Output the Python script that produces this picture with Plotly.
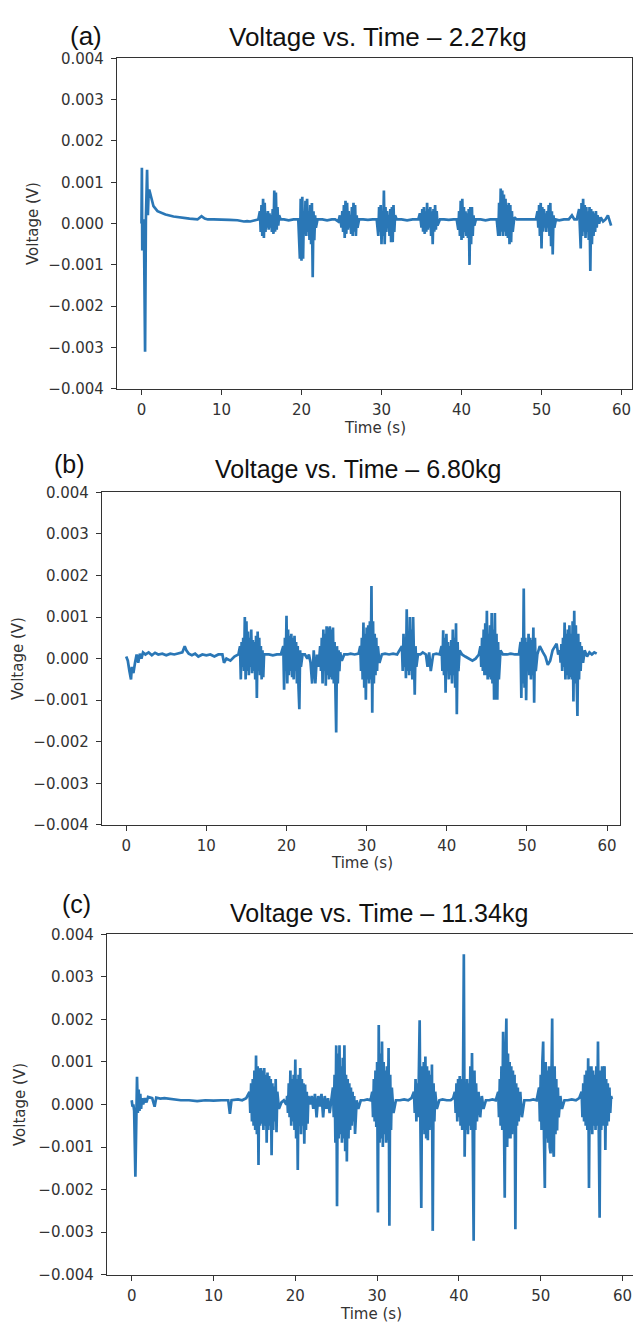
import plotly.graph_objects as go

W, H = 633, 1334

# ---------------- data ----------------
titles = ["Voltage vs. Time – 2.27kg", "Voltage vs. Time – 6.80kg", "Voltage vs. Time – 11.34kg"]
panel_tags = ["(a)", "(b)", "(c)"]
x_label = "Time (s)"
y_label = "Voltage (V)"
x_ticks = [0, 10, 20, 30, 40, 50, 60]
x_tick_text = ["0", "10", "20", "30", "40", "50", "60"]
y_ticks = [-0.004, -0.003, -0.002, -0.001, 0.0, 0.001, 0.002, 0.003, 0.004]
y_tick_text = ["−0.004", "−0.003", "−0.002", "−0.001", "0.000", "0.001", "0.002", "0.003", "0.004"]

# (time s, voltage mV) samples
samples_a_mV = [
    (0.0, 0.0), (0.05, 1.35), (0.1, -0.65), (0.15, 0.0), (0.3, 0.1), (0.45, -3.1), (0.55, 0.1), (0.7, 1.3),
    (0.8, 0.2), (0.9, 0.8), (1.0, 0.8), (1.2, 0.65), (1.5, 0.42), (2.0, 0.3), (2.5, 0.25), (3.0, 0.22),
    (4.0, 0.17), (5.0, 0.14), (6.0, 0.12), (7.0, 0.1), (7.5, 0.18), (7.9, 0.12), (8.3, 0.1), (9.0, 0.1),
    (10.0, 0.1), (11.0, 0.09), (12.0, 0.08), (12.8, 0.05), (13.2, 0.06), (13.6, 0.05), (14.2, 0.08), (14.6, 0.1),
    (14.8, 0.3), (14.9, -0.2), (15.0, 0.45), (15.1, -0.3), (15.2, 0.6), (15.3, -0.35), (15.4, 0.5), (15.5, -0.2),
    (15.6, 0.25), (15.7, -0.1), (15.8, 0.3), (15.9, -0.15), (16.0, 0.25), (16.1, -0.1), (16.2, 0.2), (16.3, -0.2),
    (16.4, 0.35), (16.5, -0.25), (16.6, 0.8), (16.7, -0.2), (16.8, 0.75), (16.9, -0.15), (17.0, 0.4), (17.1, -0.05),
    (17.2, 0.2), (17.4, 0.1), (17.8, 0.1), (18.4, 0.08), (19.0, 0.1),
    (19.6, 0.1), (19.8, -0.85), (19.9, 0.6), (20.0, -0.9), (20.1, 0.65), (20.2, -0.85), (20.3, 0.3), (20.4, -0.2),
    (20.5, 0.55), (20.6, -0.3), (20.7, 0.6), (20.8, -0.2), (20.9, 0.3), (21.0, -0.4), (21.1, 0.45), (21.2, -0.5),
    (21.3, 0.5), (21.4, -1.3), (21.5, 0.3), (21.6, -0.4), (21.7, 0.2), (21.8, -0.1), (22.0, 0.1),
    (22.6, 0.1), (23.2, 0.08), (23.8, 0.1), (24.2, 0.1),
    (24.6, 0.05), (24.8, 0.2), (25.0, -0.1), (25.1, 0.3), (25.2, -0.2), (25.3, 0.45), (25.4, -0.35), (25.5, 0.55),
    (25.6, -0.25), (25.7, 0.5), (25.8, -0.15), (25.9, 0.3), (26.0, -0.1), (26.1, 0.2), (26.2, -0.25), (26.3, 0.4),
    (26.4, -0.3), (26.5, 0.5), (26.6, -0.2), (26.7, 0.45), (26.8, -0.3), (26.9, 0.2), (27.0, -0.1), (27.2, 0.1),
    (27.7, 0.1), (28.3, 0.09), (28.9, 0.1),
    (29.4, 0.1), (29.6, -0.3), (29.7, 0.4), (29.8, -0.2), (29.9, 0.45), (30.0, -0.5), (30.1, 0.3), (30.2, -0.3),
    (30.3, 0.8), (30.4, -0.5), (30.5, 0.4), (30.6, -0.2), (30.7, 0.3), (30.8, -0.1), (30.9, 0.2), (31.0, -0.3),
    (31.1, 0.35), (31.2, -0.45), (31.3, 0.4), (31.4, -0.45), (31.5, 0.45), (31.6, -0.2), (31.7, 0.2), (31.9, 0.1),
    (32.5, 0.1), (33.2, 0.08), (33.9, 0.1),
    (34.6, 0.1), (34.8, 0.25), (35.0, -0.1), (35.1, 0.35), (35.2, -0.2), (35.3, 0.4), (35.4, -0.25), (35.5, 0.3),
    (35.6, -0.2), (35.7, 0.5), (35.8, -0.15), (35.9, 0.35), (36.0, -0.1), (36.1, 0.4), (36.2, -0.3), (36.3, 0.3),
    (36.4, -0.5), (36.5, 0.35), (36.6, -0.2), (36.7, 0.45), (36.8, -0.15), (36.9, 0.3), (37.0, -0.05), (37.3, 0.1),
    (37.8, 0.1), (38.4, 0.09), (39.0, 0.1),
    (39.4, 0.1), (39.6, -0.15), (39.7, 0.3), (39.8, -0.3), (39.9, 0.55), (40.0, -0.4), (40.1, 0.6), (40.2, -0.35),
    (40.3, 0.4), (40.4, -0.2), (40.5, 0.3), (40.6, -0.3), (40.7, 0.25), (40.8, -0.35), (40.9, 0.35), (41.0, -1.0),
    (41.1, 0.4), (41.2, -0.5), (41.3, 0.4), (41.4, -0.3), (41.5, 0.2), (41.6, -0.05), (41.8, 0.1),
    (42.4, 0.1), (43.0, 0.08), (43.6, 0.1), (44.1, 0.1),
    (44.4, 0.1), (44.6, -0.3), (44.7, 0.5), (44.8, -0.3), (44.9, 0.85), (45.0, -0.2), (45.1, 0.8), (45.2, -0.3),
    (45.3, 0.7), (45.4, -0.2), (45.5, 0.6), (45.6, -0.3), (45.7, 0.45), (45.8, -0.35), (45.9, 0.5), (46.0, -0.5),
    (46.1, 0.45), (46.2, -0.45), (46.3, 0.3), (46.4, -0.2), (46.6, 0.15), (46.9, 0.1),
    (47.5, 0.1), (48.1, 0.09), (48.7, 0.1),
    (49.3, 0.1), (49.5, 0.3), (49.6, -0.1), (49.7, 0.45), (49.8, -0.3), (49.9, 0.5), (50.0, -0.6), (50.1, 0.4),
    (50.2, -0.2), (50.3, 0.35), (50.4, -0.1), (50.5, 0.25), (50.6, -0.2), (50.7, 0.3), (50.8, -0.1), (50.9, 0.45),
    (51.0, -0.3), (51.1, 0.5), (51.2, -0.55), (51.3, 0.3), (51.4, -0.75), (51.5, 0.2), (51.6, -0.1), (51.8, 0.1),
    (52.2, 0.08), (52.8, 0.1), (53.4, 0.1), (53.8, 0.2), (54.1, 0.1),
    (54.4, 0.1), (54.7, 0.35), (54.9, -0.6), (55.0, 0.5), (55.1, -0.3), (55.2, 0.6), (55.3, -0.2), (55.4, 0.45),
    (55.5, -0.35), (55.6, 0.4), (55.7, -0.2), (55.8, 0.3), (55.9, -0.4), (56.0, 0.4), (56.1, -1.15), (56.2, 0.35),
    (56.3, -0.5), (56.4, 0.3), (56.5, -0.3), (56.6, 0.25), (56.7, -0.2), (56.8, 0.3), (56.9, -0.1), (57.0, 0.2),
    (57.2, 0.0), (57.4, 0.15), (57.7, 0.05), (58.0, 0.1), (58.3, 0.2), (58.5, 0.05), (58.7, -0.05),
]

samples_b_mV = [
    (0.0, 0.05), (0.2, -0.05), (0.4, -0.3), (0.6, -0.5), (0.7, -0.2), (0.9, -0.35), (1.1, -0.1), (1.3, 0.1),
    (1.5, -0.1), (1.7, 0.12), (1.9, 0.0), (2.1, 0.15), (2.4, 0.1), (2.8, 0.15), (3.2, 0.08), (3.6, 0.14),
    (4.0, 0.1), (4.5, 0.12), (5.0, 0.08), (5.5, 0.12), (6.0, 0.1), (6.5, 0.12), (7.0, 0.15), (7.3, 0.3),
    (7.5, 0.2), (7.8, 0.12), (8.2, 0.08), (8.6, 0.12), (9.0, 0.05), (9.5, 0.1), (10.0, 0.08), (10.5, 0.1),
    (11.0, 0.05), (11.5, 0.1), (12.0, 0.1), (12.2, -0.1), (12.5, 0.0), (13.0, -0.05), (13.5, 0.05), (14.0, 0.1),
    (14.2, 0.3), (14.3, -0.5), (14.4, 0.4), (14.5, -0.2), (14.6, 0.5), (14.7, -0.3), (14.8, 1.0), (14.9, -0.5),
    (15.0, 0.9), (15.1, -0.3), (15.2, 0.65), (15.3, -0.4), (15.4, 0.5), (15.5, -0.2), (15.6, 0.7), (15.7, -0.35),
    (15.8, 0.45), (15.9, -0.3), (16.0, 0.4), (16.1, -0.5), (16.2, 0.55), (16.3, -0.95), (16.4, 0.65), (16.5, -0.3),
    (16.6, 0.5), (16.7, -0.4), (16.8, 0.3), (16.9, -0.5), (17.0, 0.2), (17.1, -0.45), (17.2, 0.1), (17.4, 0.1),
    (17.8, 0.1), (18.3, 0.08), (18.8, 0.1), (19.3, 0.1),
    (19.6, 0.3), (19.7, -0.75), (19.8, 0.5), (19.9, -0.3), (20.0, 1.03), (20.1, -0.6), (20.2, 0.7), (20.3, -0.4),
    (20.4, 0.55), (20.5, -0.3), (20.6, 0.6), (20.7, -0.45), (20.8, 0.5), (20.9, -0.5), (21.0, 0.55), (21.1, -0.3),
    (21.2, 0.4), (21.3, -0.6), (21.4, 0.3), (21.5, -0.7), (21.6, -1.22), (21.7, 0.2), (21.8, -0.2), (22.0, 0.1),
    (22.3, 0.1), (22.6, 0.0), (22.8, 0.1), (23.0, -0.1), (23.2, -0.6), (23.4, 0.2), (23.6, -0.6), (23.8, 0.1),
    (24.0, -0.2),
    (24.2, 0.3), (24.3, -0.3), (24.4, 0.5), (24.5, -0.6), (24.6, 0.7), (24.7, -0.3), (24.8, 0.6), (24.9, -0.65),
    (25.0, 0.78), (25.1, -0.4), (25.2, 0.75), (25.3, -0.5), (25.4, 0.78), (25.5, -0.45), (25.6, 0.7), (25.7, -0.5),
    (25.8, 0.75), (25.9, -0.6), (26.0, 0.4), (26.1, -1.0), (26.2, -1.78), (26.3, 0.3), (26.4, -0.6), (26.5, 0.2),
    (26.6, -0.3), (26.7, 0.15), (26.9, -0.05), (27.2, 0.1),
    (27.6, 0.1), (28.0, 0.12), (28.5, 0.1), (29.0, 0.12),
    (29.2, 0.3), (29.3, -0.3), (29.4, 0.5), (29.5, -0.5), (29.6, 0.87), (29.7, -0.7), (29.8, 0.6), (29.9, -0.99),
    (30.0, 0.75), (30.1, -0.5), (30.2, 0.8), (30.3, -0.6), (30.4, 0.9), (30.5, -0.5), (30.6, 1.75), (30.7, -1.3),
    (30.8, 0.9), (30.9, -0.6), (31.0, 0.6), (31.1, -0.4), (31.2, 0.5), (31.3, -0.3), (31.4, 0.3), (31.6, -0.1),
    (31.9, 0.1), (32.3, 0.12), (32.8, 0.1), (33.3, 0.12), (33.8, 0.1),
    (34.4, 0.3), (34.5, -0.3), (34.6, 0.6), (34.7, -0.2), (34.8, 0.5), (34.9, -0.47), (35.0, 1.19), (35.1, -0.3),
    (35.2, 0.6), (35.3, -0.4), (35.4, 1.0), (35.5, -0.3), (35.6, 0.7), (35.7, -0.5), (35.8, 1.0), (35.9, -0.6),
    (36.0, -0.87), (36.1, 0.3), (36.2, -0.2), (36.4, 0.1),
    (36.7, 0.1), (37.0, 0.15), (37.4, 0.1), (37.6, -0.2), (37.8, 0.15), (38.0, -0.3), (38.3, 0.1), (38.7, 0.12),
    (39.1, 0.1),
    (39.35, 0.3), (39.45, -0.3), (39.55, 0.68), (39.65, -0.4), (39.75, 0.5), (39.85, -0.82), (39.95, 0.6),
    (40.05, -0.3), (40.15, 0.4), (40.25, -0.5), (40.35, 0.3), (40.45, -0.4), (40.55, 0.45), (40.65, -0.6),
    (40.75, 0.7), (40.85, -0.4), (40.95, 0.5), (41.05, -0.7), (41.15, 0.85), (41.25, -1.34), (41.35, 0.4),
    (41.45, -0.3), (41.6, 0.2), (41.9, 0.1),
    (42.3, 0.05), (42.8, 0.0), (43.2, -0.05), (43.6, 0.0), (44.0, 0.1),
    (44.2, 0.3), (44.3, -0.2), (44.4, 0.5), (44.5, -0.3), (44.6, 0.7), (44.7, -0.4), (44.8, 0.85), (44.9, -0.4),
    (45.0, 1.15), (45.1, -0.5), (45.2, 0.6), (45.3, -0.45), (45.4, 0.8), (45.5, -0.5), (45.6, 1.1), (45.7, -0.6),
    (45.8, 0.7), (45.9, -0.99), (46.0, 1.1), (46.1, -0.99), (46.2, 0.6), (46.3, -0.99), (46.4, 0.4), (46.5, -0.5),
    (46.7, 0.2), (47.0, 0.1), (47.5, 0.1), (48.0, 0.12), (48.5, 0.1), (49.0, 0.1),
    (49.2, 0.4), (49.3, -0.95), (49.4, 0.5), (49.5, -0.6), (49.6, 1.69), (49.7, -0.7), (49.8, 0.5), (49.9, -1.0),
    (50.0, 0.4), (50.1, -0.3), (50.2, 0.6), (50.3, -0.4), (50.4, 0.5), (50.5, -0.5), (50.6, 0.45), (50.7, -0.4),
    (50.8, 0.75), (50.9, -1.06), (51.0, 0.5), (51.1, -0.3), (51.3, 0.1),
    (51.6, 0.3), (52.0, 0.15), (52.3, 0.05), (52.6, -0.15), (52.9, -0.05), (53.2, 0.2), (53.5, 0.3), (53.7, 0.36),
    (53.9, 0.1),
    (54.1, 0.2), (54.2, -0.1), (54.3, 0.35), (54.4, -0.3), (54.5, 0.5), (54.6, -0.2), (54.7, 0.87), (54.8, -0.5),
    (54.9, 0.6), (55.0, -0.4), (55.1, 0.7), (55.2, -0.5), (55.3, 0.8), (55.4, -0.45), (55.5, 0.6), (55.6, -0.5),
    (55.7, 0.9), (55.8, -1.03), (55.9, 1.15), (56.0, -0.6), (56.1, 0.8), (56.2, -0.5), (56.3, -1.38), (56.4, 0.6),
    (56.5, -0.5), (56.6, 0.4), (56.7, -0.3), (56.8, 0.3), (57.0, -0.1), (57.2, 0.2), (57.5, 0.05), (57.8, 0.15),
    (58.1, 0.1), (58.4, 0.15), (58.7, 0.12),
]

samples_c_mV = [
    (0.0, 0.1), (0.1, -0.05), (0.2, 0.0), (0.3, -0.15), (0.45, -1.7), (0.55, 0.2), (0.65, 0.65), (0.75, -0.2),
    (0.85, 0.35), (0.95, -0.15), (1.05, 0.25), (1.15, -0.1), (1.25, 0.15), (1.4, 0.0), (1.6, 0.15), (1.8, 0.05),
    (2.0, 0.18), (2.5, 0.15), (2.8, -0.05), (3.0, 0.16), (3.5, 0.14), (4.0, 0.15), (5.0, 0.12), (6.0, 0.1),
    (7.0, 0.1), (8.0, 0.08), (9.0, 0.1), (10.0, 0.09), (11.0, 0.1), (11.8, 0.1), (12.0, -0.22), (12.2, 0.1),
    (13.0, 0.12), (13.5, 0.1), (14.0, 0.15),
    (14.4, 0.3), (14.5, -0.2), (14.6, 0.5), (14.7, -0.4), (14.8, 0.6), (14.9, -0.5), (15.0, 0.8), (15.1, -0.6),
    (15.2, 1.15), (15.3, -0.7), (15.4, 0.9), (15.5, -1.42), (15.6, 0.85), (15.7, -0.5), (15.8, 0.86), (15.9, -0.45),
    (16.0, 0.8), (16.1, -0.6), (16.2, 0.86), (16.3, -0.5), (16.4, 0.7), (16.5, -0.9), (16.6, 0.75), (16.7, -0.6),
    (16.8, 0.67), (16.9, -0.5), (17.0, 0.6), (17.1, -1.19), (17.2, 0.5), (17.3, -0.6), (17.4, 0.42), (17.5, -0.4),
    (17.6, 0.6), (17.7, -0.65), (17.8, 0.3), (18.0, -0.1), (18.3, 0.05), (18.6, 0.1), (18.9, 0.0),
    (19.0, 0.2), (19.1, -0.2), (19.2, 0.5), (19.3, -0.3), (19.4, 0.8), (19.5, -0.5), (19.6, 0.6), (19.7, -0.4),
    (19.8, 0.7), (19.9, -0.6), (20.0, 1.06), (20.1, -0.8), (20.2, 0.6), (20.3, -1.54), (20.4, 0.7), (20.5, -0.5),
    (20.6, 0.86), (20.7, -0.7), (20.8, 0.6), (20.9, -0.5), (21.0, 0.5), (21.1, -0.92), (21.2, 0.47), (21.3, -0.6),
    (21.4, 0.3), (21.5, -0.45), (21.6, 0.2), (21.8, 0.0),
    (22.0, 0.2), (22.2, -0.1), (22.4, 0.25), (22.6, -0.3), (22.8, 0.2), (23.0, -0.05), (23.2, 0.25), (23.4, -0.3),
    (23.6, 0.2), (23.8, -0.1), (24.0, 0.15), (24.2, -0.2), (24.4, 0.1),
    (24.6, 0.4), (24.7, -0.3), (24.8, 0.7), (24.9, -0.9), (25.0, 1.39), (25.1, -2.39), (25.2, 1.2), (25.3, -0.8),
    (25.4, 1.39), (25.5, -0.7), (25.6, 0.9), (25.7, -0.9), (25.8, 1.1), (25.9, -0.8), (26.0, 1.39), (26.1, -1.1),
    (26.2, 0.7), (26.3, -1.34), (26.4, 0.6), (26.5, -0.8), (26.6, 0.5), (26.7, -0.6), (26.8, 0.4), (26.9, -0.5),
    (27.0, 0.3), (27.1, -0.4), (27.2, 0.2), (27.3, -0.69), (27.5, 0.1), (27.7, -0.1), (28.0, 0.1),
    (28.4, 0.1), (28.8, 0.12), (29.2, 0.1),
    (29.4, 0.3), (29.5, -0.3), (29.6, 0.6), (29.7, -0.4), (29.8, 0.8), (29.9, -0.53), (30.0, 1.0), (30.1, -2.54),
    (30.2, 1.87), (30.3, -0.9), (30.4, 1.2), (30.5, -0.8), (30.6, 1.48), (30.7, -1.0), (30.8, 1.0), (30.9, -0.7),
    (31.0, 0.8), (31.1, -0.9), (31.2, 0.9), (31.3, -0.84), (31.4, 1.33), (31.5, -2.85), (31.6, 0.7), (31.7, -0.6),
    (31.8, 0.4), (32.0, -0.2), (32.3, 0.1),
    (32.8, 0.1), (33.3, 0.12), (33.8, 0.1), (34.2, 0.15),
    (34.5, 0.3), (34.6, -0.2), (34.7, 0.6), (34.8, -0.4), (34.9, 0.5), (35.0, -0.3), (35.1, 0.7), (35.2, 1.98),
    (35.3, -0.6), (35.4, -2.43), (35.5, 0.9), (35.6, -0.6), (35.7, 1.0), (35.8, -0.7), (35.9, 1.13), (36.0, -0.8),
    (36.1, 0.9), (36.2, -0.84), (36.3, 0.8), (36.4, -0.6), (36.5, 0.7), (36.6, -0.5), (36.7, 0.94), (36.8, -2.97),
    (36.9, 0.5), (37.0, -0.4), (37.1, 0.3), (37.3, -0.1), (37.6, 0.1),
    (38.0, 0.12), (38.5, 0.1), (39.0, 0.1), (39.3, 0.15),
    (39.5, 0.3), (39.6, -0.2), (39.7, 0.5), (39.8, -0.4), (39.9, 0.6), (40.0, -0.3), (40.1, 0.67), (40.2, -0.5),
    (40.3, 0.6), (40.4, -0.6), (40.5, 0.5), (40.6, 3.53), (40.7, -1.23), (40.8, 0.4), (40.9, -0.6), (41.0, 0.6),
    (41.1, -0.7), (41.2, 0.5), (41.3, -0.5), (41.4, 0.9), (41.5, -0.6), (41.6, 1.21), (41.7, -0.9), (41.8, -3.2),
    (41.9, 0.8), (42.0, -0.6), (42.1, 0.5), (42.2, -0.4), (42.4, 0.3), (42.6, -0.3), (42.8, 0.2), (43.0, -0.1),
    (43.3, 0.1), (43.7, 0.1), (44.1, 0.12), (44.5, 0.1),
    (44.8, 0.3), (44.9, -0.3), (45.0, 0.6), (45.1, -0.5), (45.2, 0.9), (45.3, -0.6), (45.4, 1.71), (45.5, -0.9),
    (45.6, -2.19), (45.7, 1.0), (45.8, 2.02), (45.9, -1.0), (46.0, 1.2), (46.1, -0.8), (46.2, 1.0), (46.3, -0.8),
    (46.4, 0.9), (46.5, -0.7), (46.6, 0.8), (46.7, -0.6), (46.8, 0.7), (46.9, -2.93), (47.0, 0.5), (47.1, -0.5),
    (47.2, 0.4), (47.3, -0.4), (47.5, 0.3), (47.7, -0.3), (48.0, 0.1), (48.3, 0.1),
    (48.7, 0.1), (49.1, 0.12), (49.5, 0.1),
    (49.8, 0.4), (49.9, -0.4), (50.0, 0.7), (50.1, -0.6), (50.2, 1.0), (50.3, 1.48), (50.4, -0.8), (50.5, -1.96),
    (50.6, 1.0), (50.7, -0.8), (50.8, 0.8), (50.9, -0.9), (51.0, 0.9), (51.1, -1.0), (51.2, -1.15), (51.3, 1.3),
    (51.4, 2.02), (51.5, -1.0), (51.6, -1.23), (51.7, 0.9), (51.8, -0.7), (51.9, 0.6), (52.0, -0.61), (52.1, 0.4),
    (52.2, -0.3), (52.4, 0.2), (52.6, -0.1), (52.9, 0.1),
    (53.3, 0.1), (53.8, 0.12), (54.3, 0.1), (54.7, 0.15),
    (55.0, 0.3), (55.1, -0.3), (55.2, 0.5), (55.3, -0.4), (55.4, 0.7), (55.5, -0.5), (55.6, 0.8), (55.7, -0.6),
    (55.8, 1.09), (55.9, -1.96), (56.0, 0.9), (56.1, -0.6), (56.2, 0.9), (56.3, -0.7), (56.4, 0.8), (56.5, -0.5),
    (56.6, 0.7), (56.7, -0.6), (56.8, 0.9), (56.9, -0.5), (57.0, 1.48), (57.1, -0.7), (57.2, -2.66), (57.3, 0.8),
    (57.4, -0.6), (57.5, 0.9), (57.6, -0.5), (57.7, 0.7), (57.8, 0.9), (57.9, -1.07), (58.0, 0.6), (58.1, -0.5),
    (58.2, 0.5), (58.3, -0.4), (58.4, 0.4), (58.5, -0.2), (58.6, 0.2), (58.7, 0.13),
]

all_samples = [samples_a_mV, samples_b_mV, samples_c_mV]

# ---------------- layout geometry (pixels in the 633x1334 page) ----------------
panels = [
    dict(x0=117, x1=632, y0=50, y1=385, xr=[-3.06, 61.31], mirror_y=True,
         title=(378, 28, 26), tag=(86, 27), ylab=(33, 218), xlab=(375, 425)),
    dict(x0=102, x1=620, y0=490, y1=827, xr=[-3.02, 61.61], mirror_y=True,
         title=(358, 466, 25), tag=(69, 461), ylab=(18, 659), xlab=(362, 866)),
    dict(x0=107, x1=633, y0=938, y1=1283, xr=[-3.02, 61.28], mirror_y=False,
         title=(379, 916, 25), tag=(76, 907), ylab=(20, 1111), xlab=(371, 1323)),
]

LINE = "#2a77b6"
AX = "#333333"
TICKFONT = dict(family="DejaVu Sans", size=15, color="#333333")

fig = go.Figure()
annotations = []
layout_axes = {}

for i, (samples, p) in enumerate(zip(all_samples, panels)):
    n = "" if i == 0 else str(i + 1)
    t = [s[0] for s in samples]
    v = [s[1] / 1000.0 for s in samples]
    fig.add_trace(go.Scatter(x=t, y=v, mode="lines", xaxis="x" + n, yaxis="y" + n,
                             line=dict(color=LINE, width=2.7), showlegend=False, hoverinfo="skip"))
    layout_axes["xaxis" + n] = dict(
        domain=[p["x0"] / W, min(1.0, p["x1"] / W)], anchor="y" + n, range=p["xr"],
        tickvals=x_ticks, ticktext=x_tick_text, showgrid=False, zeroline=False,
        showline=True, mirror=True, linecolor=AX, linewidth=1.3,
        ticks="outside", ticklen=5, tickwidth=1.3, tickcolor=AX, tickfont=TICKFONT,
        ticklabelstandoff=2, fixedrange=True)
    layout_axes["yaxis" + n] = dict(
        domain=[1 - p["y1"] / H, 1 - p["y0"] / H], anchor="x" + n, range=[-0.004, 0.004],
        tickvals=y_ticks, ticktext=y_tick_text, showgrid=False, zeroline=False,
        showline=True, mirror=p["mirror_y"], linecolor=AX, linewidth=1.3,
        ticks="outside", ticklen=5, tickwidth=1.3, tickcolor=AX, tickfont=TICKFONT,
        ticklabelstandoff=4, fixedrange=True)

    tx, ty, ts = p["title"]
    annotations.append(dict(text=titles[i], x=tx / W, y=1 - ty / H, xref="paper", yref="paper",
                            xanchor="center", yanchor="middle", showarrow=False,
                            font=dict(family="Liberation Sans, Arial", size=ts, color="#111111")))
    gx, gy = p["tag"]
    annotations.append(dict(text=panel_tags[i], x=gx / W, y=1 - gy / H, xref="paper", yref="paper",
                            xanchor="center", yanchor="middle", showarrow=False,
                            font=dict(family="Liberation Sans, Arial", size=ts, color="#111111")))
    lx, ly = p["ylab"]
    annotations.append(dict(text=y_label, x=lx / W, y=1 - ly / H, xref="paper", yref="paper",
                            xanchor="center", yanchor="middle", showarrow=False, textangle=-90,
                            font=dict(family="DejaVu Sans", size=15, color="#333333")))
    bx, by = p["xlab"]
    annotations.append(dict(text=x_label, x=bx / W, y=1 - by / H, xref="paper", yref="paper",
                            xanchor="center", yanchor="middle", showarrow=False,
                            font=dict(family="DejaVu Sans", size=15, color="#333333")))

fig.update_layout(
    width=W, height=H, margin=dict(l=0, r=0, t=0, b=0),
    paper_bgcolor="white", plot_bgcolor="white",
    annotations=annotations, **layout_axes)

fig.write_html("out.html", config={"displayModeBar": False},
               post_script="document.body.style.margin='0';document.body.style.overflow='hidden';")
